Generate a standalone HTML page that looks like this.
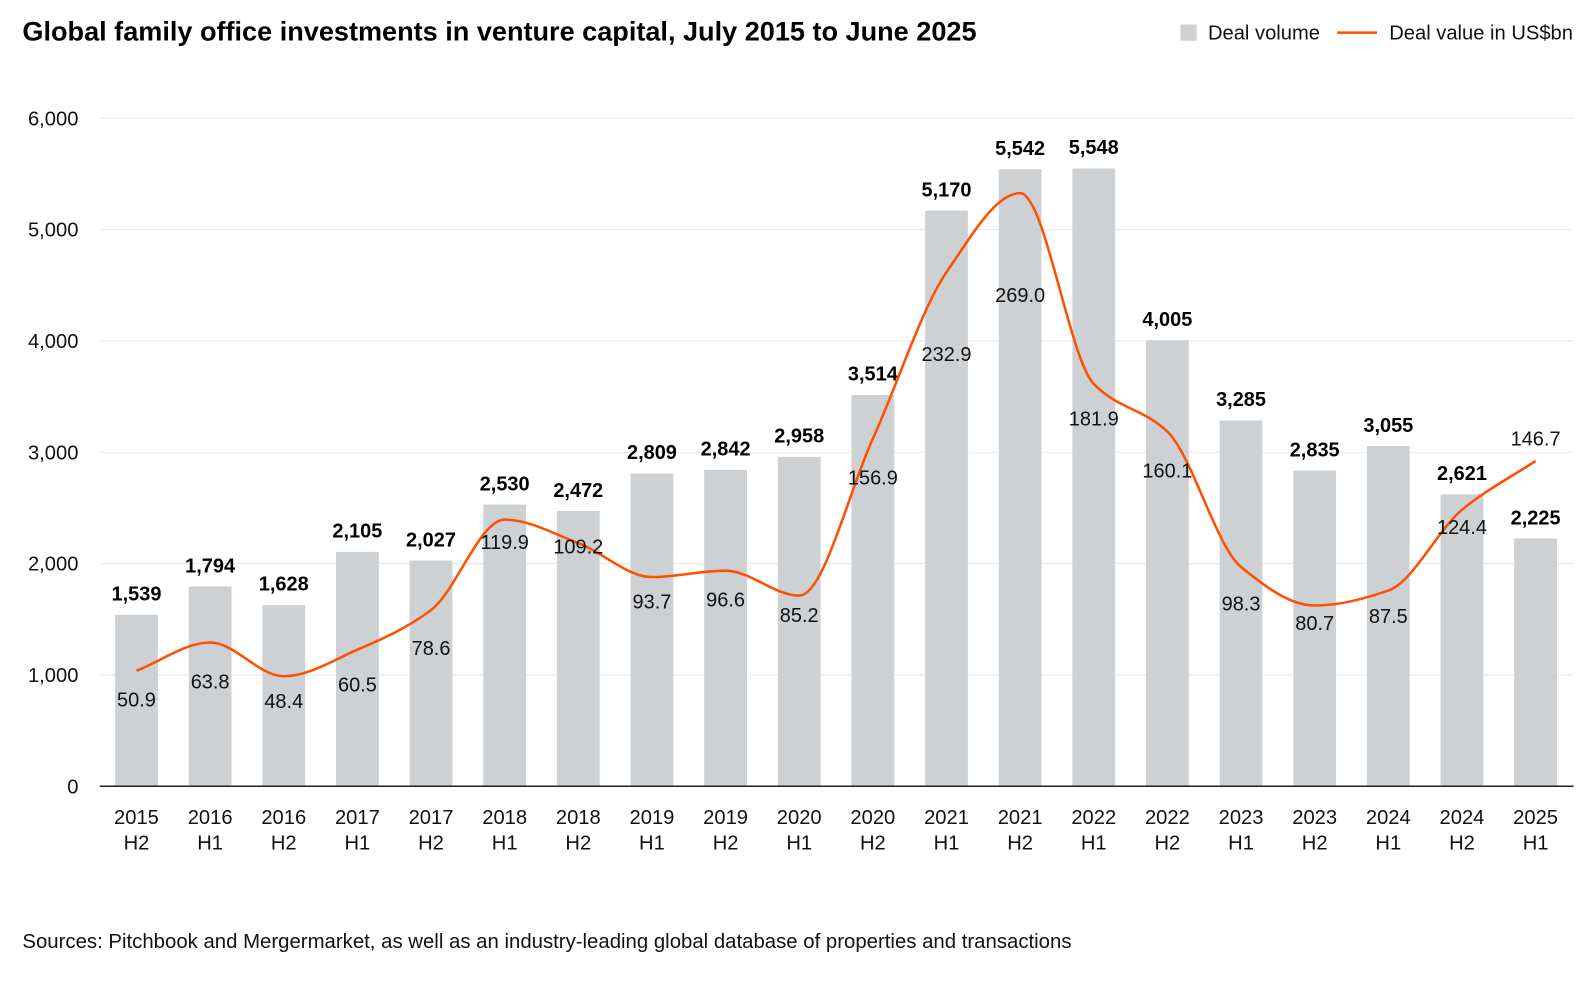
<!DOCTYPE html>
<html><head><meta charset="utf-8"><style>
body{margin:0;background:#fff;font-family:"Liberation Sans",Arial,sans-serif;}
svg text{font-family:"Liberation Sans",Arial,sans-serif;}
</style></head><body>
<svg id="c" width="1596" height="980" viewBox="0 0 1596 980">
<g transform="scale(1.0185)">
<text x="22" y="40" font-size="26.6" font-weight="bold" fill="#000">Global family office investments in venture capital, July 2015 to June 2025</text>
<g>
<rect x="1159" y="24" width="16" height="16" fill="#cdd1d4"/>
<text x="1186" y="39" font-size="19.8" fill="#111">Deal volume</text>
<line x1="1313" y1="32" x2="1352" y2="32" stroke="#fe5000" stroke-width="2.5"/>
<text x="1364" y="39" font-size="19.8" fill="#111">Deal value in US$bn</text>
</g>
<text x="22" y="931" font-size="20" fill="#111">Sources: Pitchbook and Mergermarket, as well as an industry-leading global database of properties and transactions</text>
<g id="g"></g>
</g>
</svg>
<script>
const categories=[["2015","H2"],["2016","H1"],["2016","H2"],["2017","H1"],["2017","H2"],["2018","H1"],["2018","H2"],["2019","H1"],["2019","H2"],["2020","H1"],["2020","H2"],["2021","H1"],["2021","H2"],["2022","H1"],["2022","H2"],["2023","H1"],["2023","H2"],["2024","H1"],["2024","H2"],["2025","H1"]];
const volumes=[1539,1794,1628,2105,2027,2530,2472,2809,2842,2958,3514,5170,5542,5548,4005,3285,2835,3055,2621,2225];
const values=[50.9,63.8,48.4,60.5,78.6,119.9,109.2,93.7,96.6,85.2,156.9,232.9,269.0,181.9,160.1,98.3,80.7,87.5,124.4,146.7];
const yTicks=[0,1000,2000,3000,4000,5000,6000];
const labelOffsets=[28,38,24,34,37,22,3,24,28,19,38,80,100,34,38,36,17,25,17,-22];
const NS="http://www.w3.org/2000/svg",g=document.getElementById('g');
const y0=772,yTop=116,x0=134,step=72.3,bw=42;
const yV=v=>y0-(v/6000)*(y0-yTop);
const yL=v=>768-v*2.15;
const xC=i=>x0+i*step;
function mk(t,a,txt){const e=document.createElementNS(NS,t);for(const k in a)e.setAttribute(k,a[k]);if(txt!==undefined)e.textContent=txt;g.appendChild(e);return e;}
yTicks.forEach(t=>{
 if(t>0){const l=mk('line',{x1:98,x2:1545,y1:yV(t),y2:yV(t),stroke:'#e8e8e8','stroke-width':1});
 
 }
 const tx=mk('text',{x:77,y:yV(t)+7,'text-anchor':'end','font-size':19.8,fill:'#111'},t.toLocaleString('en-US'));
 
 
});
volumes.forEach((v,i)=>{
 const r=mk('rect',{x:xC(i)-bw/2,y:yV(v),width:bw,height:y0-yV(v),fill:'#cdd1d4'});
 
 
 const t=mk('text',{x:xC(i),y:yV(v)-14,'text-anchor':'middle','font-size':19.6,'font-weight':'bold',fill:'#000'},v.toLocaleString('en-US'));
 
 
 const c1=mk('text',{x:xC(i),y:809,'text-anchor':'middle','font-size':19.8,fill:'#111'},categories[i][0]);
 
 
 const c2=mk('text',{x:xC(i),y:834,'text-anchor':'middle','font-size':19.8,fill:'#111'},categories[i][1]);
 
 
});
const ax=mk('line',{x1:98,x2:1545,y1:y0,y2:y0,stroke:'#222','stroke-width':1.5});


// monotone cubic interpolation
const P=values.map((v,i)=>[xC(i),yL(v)]);
const n=P.length,dx=[],sl=[],m=[];
for(let i=0;i<n-1;i++){dx[i]=P[i+1][0]-P[i][0];sl[i]=(P[i+1][1]-P[i][1])/dx[i];}
m[0]=sl[0];m[n-1]=sl[n-2];
for(let i=1;i<n-1;i++){m[i]=(sl[i-1]*sl[i]<=0)?0:3*(dx[i-1]+dx[i])/((2*dx[i]+dx[i-1])/sl[i-1]+(dx[i]+2*dx[i-1])/sl[i]);}
let d='M'+P[0][0]+','+P[0][1];
for(let i=0;i<n-1;i++){const h=dx[i]/3;
 d+=` C${P[i][0]+h},${P[i][1]+m[i]*h} ${P[i+1][0]-h},${P[i+1][1]-m[i+1]*h} ${P[i+1][0]},${P[i+1][1]}`;}
const ln=mk('path',{d:d,fill:'none',stroke:'#fe5000','stroke-width':2.5});


values.forEach((v,i)=>{
 const t=mk('text',{x:xC(i),y:yL(v)+labelOffsets[i]+7,'text-anchor':'middle','font-size':19.6,fill:'#111'},v.toFixed(1));
 
 
});
</script>
</body></html>
